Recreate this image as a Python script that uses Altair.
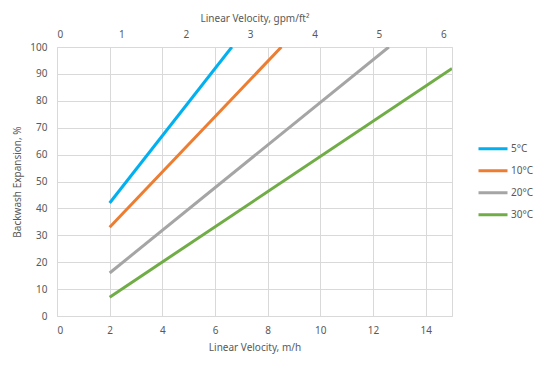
import altair as alt
import pandas as pd

# Data
temps = ["5°C", "10°C", "20°C", "30°C"]
x_start = [2, 2, 2, 2]
y_start = [42, 33, 16, 7]
x_end = [6.64, 8.52, 12.6, 15]
y_end = [100, 100, 100, 92]
colors = ["#00b0f0", "#ed7d31", "#a5a5a5", "#70ad47"]

x_ticks = [0, 2, 4, 6, 8, 10, 12, 14]
y_ticks = [0, 10, 20, 30, 40, 50, 60, 70, 80, 90, 100]
top_ticks = [0, 1, 2, 3, 4, 5, 6]
mh_per_gpmft2 = 2.445  # 1 gpm/ft² = 2.445 m/h

rows = []
for t, xs, ys, xe, ye in zip(temps, x_start, y_start, x_end, y_end):
    rows.append({"temp": t, "v": xs, "e": ys})
    rows.append({"temp": t, "v": xe, "e": ye})
df = pd.DataFrame(rows)
top_df = pd.DataFrame({"g": top_ticks})

FONT = "Noto Sans"
TXT = "#595959"
GRID = "#d9d9d9"

lines = alt.Chart(df).mark_line(strokeWidth=3, clip=True).encode(
    x=alt.X("v:Q",
            scale=alt.Scale(domain=[0, 15], nice=False, zero=True),
            axis=alt.Axis(values=x_ticks, title="Linear Velocity, m/h",
                          grid=True, ticks=False, domain=False,
                          labelPadding=9, titlePadding=7)),
    y=alt.Y("e:Q",
            scale=alt.Scale(domain=[0, 100], nice=False),
            axis=alt.Axis(values=y_ticks, title="Backwash Expansion, %",
                          grid=True, ticks=False, domain=False,
                          labelPadding=10, titlePadding=7)),
    color=alt.Color("temp:N",
                    scale=alt.Scale(domain=temps, range=colors),
                    legend=alt.Legend(title=None, orient="none",
                                      legendX=420, legendY=91,
                                      symbolType="stroke", symbolSize=841,
                                      symbolStrokeWidth=3, rowPadding=0,
                                      clipHeight=21.7,
                                      labelOffset=2)),
    detail="temp:N",
)

top = alt.Chart(top_df).mark_point(opacity=0).encode(
    x=alt.X("g:Q",
            scale=alt.Scale(domain=[0, 15 / mh_per_gpmft2], nice=False, zero=True),
            axis=alt.Axis(orient="top", values=top_ticks,
                          title="Linear Velocity, gpm/ft²",
                          grid=False, ticks=False, domain=False,
                          labelPadding=8, titlePadding=6)),
    y=alt.value(0),
)

chart = alt.layer(lines, top).resolve_scale(x="independent").resolve_axis(
    x="independent"
).properties(
    width=395, height=269,
    autosize=alt.AutoSizeParams(type="none"),
    padding={"left": 49, "top": 39, "right": 88, "bottom": 49},
).configure_view(
    stroke=GRID, strokeWidth=1
).configure_axis(
    labelFont=FONT, titleFont=FONT, labelColor=TXT, titleColor=TXT,
    labelFontSize=10, titleFontSize=10, titleFontWeight="normal",
    gridColor=GRID, gridWidth=1
).configure_legend(
    labelFont=FONT, labelFontSize=10, labelColor=TXT
)

chart.save("out.html", embed_options={"renderer": "svg", "actions": False})
